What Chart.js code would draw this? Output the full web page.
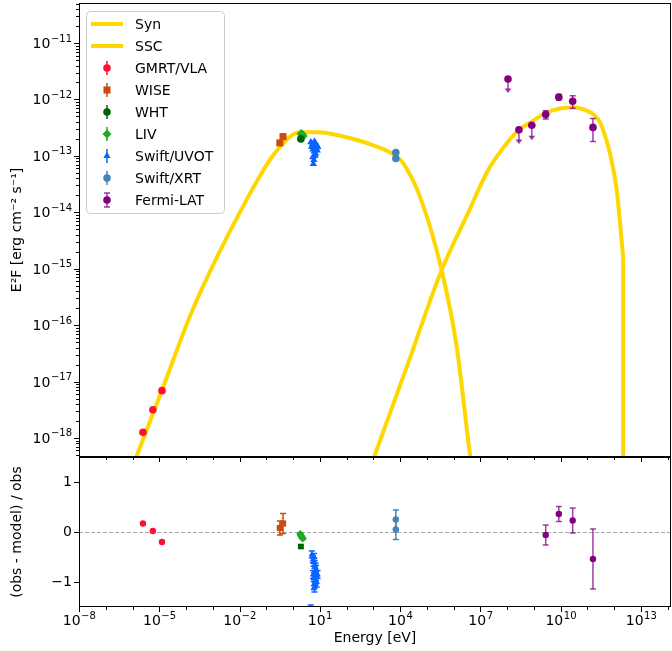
<!DOCTYPE html>
<html>
<head>
<meta charset="utf-8">
<title>SED</title>
<script src="https://cdn.jsdelivr.net/npm/chart.js@4.4.0/dist/chart.umd.min.js"></script>
<style>
  body { margin: 0; background: #fff; }
  #wrap { position: relative; width: 672px; height: 651px; }
  #wrap canvas { position: absolute; left: 0; top: 0; }
</style>
</head>
<body>
<div id="wrap">
  <canvas id="sedChart" width="672" height="651"></canvas>
  <canvas id="resChart" width="672" height="651"></canvas>
</div>
<script>
// energies in eV, fluxes as E^2F in erg cm^-2 s^-1

// model curves
const synEnergy = [5.0e-7, 1.43e-6, 1.23e-5, 1.41e-4, 1.38e-3, 1.82e-2, 5.75e-2, 0.135, 0.324, 0.76, 1.82, 10, 43.6, 407, 741, 3240, 7410, 1.26e4, 5.5e4, 3.55e5, 1.29e6, 4.07e6, 7.9e6];
const synFlux   = [1.26e-19, 4.8e-19, 6.8e-18, 1.45e-16, 1.55e-15, 1.66e-14, 4.4e-14, 8.5e-14, 1.45e-13, 2.2e-13, 2.63e-13, 2.63e-13, 2.34e-13, 1.78e-13, 1.62e-13, 1.23e-13, 9.8e-14, 7.6e-14, 1.9e-14, 9.5e-16, 4.2e-17, 5.1e-19, 6.3e-20];
const sscEnergy = [501, 1150, 2.0e4, 3.55e5, 3.16e6, 1.95e7, 9.5e7, 2.75e8, 8.5e8, 2.75e9, 9.3e9, 2.95e10, 1.23e11, 1.62e11, 2.9e11, 5.1e11, 6.9e11, 1.23e12, 2.14e12];
const sscFlux   = [1.74e-19, 5.1e-19, 2.14e-17, 9.5e-16, 8.9e-15, 5.6e-14, 1.66e-13, 2.9e-13, 4.1e-13, 5.75e-13, 6.9e-13, 7.2e-13, 6.0e-13, 5.5e-13, 4.0e-13, 1.9e-13, 1.12e-13, 2.5e-14, 1.66e-15];
// the SSC curve drops straight down at its cut-off
const sscCutEnergy = [2.14e12, 2.14e12];
const sscCutFlux   = [1.66e-15, 1e-22];

// observations (top panel)
const gmrtE = [2.45e-6, 5.75e-6, 1.26e-5];
const gmrtF = [1.26e-18, 3.16e-18, 6.9e-18];
const wiseE = [0.32, 0.42];
const wiseF = [1.7e-13, 2.2e-13];
const whtE = [1.95];
const whtF = [2.0e-13];
const livE = [2.0, 2.1, 2.25, 2.4];
const livF = [2.5e-13, 2.42e-13, 2.35e-13, 2.25e-13];
const uvotE = [4.6, 4.9, 5.2, 5.5, 5.8, 6.1, 6.4, 6.7, 7.0, 7.3, 7.6, 8.0, 8.4, 5.4, 6.0, 6.6, 5.7, 6.3];
const uvotF = [1.75e-13, 1.45e-13, 1.6e-13, 1.3e-13, 1.5e-13, 1.2e-13, 1.4e-13, 1.7e-13, 1.1e-13, 1.35e-13, 1.55e-13, 1.25e-13, 1.45e-13, 0.95e-13, 0.85e-13, 1.0e-13, 0.72e-13, 1.8e-13];
const xrtE = [6900, 6900];
const xrtF = [1.15e-13, 0.9e-13];
const xrtErr = [0.08e-13, 0.06e-13];
const fermiE = [1.07e8, 2.75e8, 8.3e8, 2.75e9, 8.5e9, 2.8e10, 1.6e11];
const fermiF = [2.3e-12, 2.9e-13, 3.5e-13, 5.4e-13, 1.1e-12, 9.3e-13, 3.2e-13];
const fermiErr = [1.0e-12, 1.27e-13, 1.6e-13, 0.9e-13, 0.12e-12, 2.3e-13, 1.4e-13];
const fermiUpperLimit = [true, true, true, false, false, false, false];

// residuals (obs - model) / obs
const gmrtRes = [0.17, 0.02, -0.2];
const wiseRes = [0.08, 0.17];
const wiseResErr = [0.14, 0.2];
const whtRes = [-0.29];
const whtResErr = [0.03];
const livResE = [1.85, 1.95, 2.1, 2.3];
const livRes = [-0.04, -0.07, -0.1, -0.13];
const livResErr = [0.02, 0.02, 0.02, 0.02];
const uvotResE = [5.0, 5.5, 5.8, 6.1, 6.4, 6.8, 7.2, 5.6, 6.0, 6.5, 7.0, 7.6, 5.9, 6.3, 6.7, 7.1, 6.2, 8.2, 4.6];
const uvotRes = [-0.45, -0.55, -0.6, -0.5, -0.65, -0.7, -0.75, -0.85, -0.9, -0.8, -0.95, -1.0, -1.05, -1.1, -0.98, -0.88, -0.6, -0.85, -2.6];
const uvotResErr = [0.07, 0.07, 0.08, 0.07, 0.08, 0.08, 0.08, 0.08, 0.09, 0.08, 0.09, 0.1, 0.1, 0.1, 0.09, 0.09, 0.08, 0.08, 1.14];
const xrtRes = [0.25, 0.05];
const xrtResErr = [0.19, 0.2];
const fermiResE = [2.75e9, 8.5e9, 2.8e10, 1.6e11];
const fermiRes = [-0.06, 0.36, 0.23, -0.54];
const fermiResErr = [0.2, 0.15, 0.25, 0.6];

// tick labels
const xTickValues = [1e-8, 1e-5, 1e-2, 1e1, 1e4, 1e7, 1e10, 1e13];
const yTickValues = [1e-18, 1e-17, 1e-16, 1e-15, 1e-14, 1e-13, 1e-12, 1e-11];
const resTickValues = [-1, 0, 1];

const X_MIN = 1e-8, X_MAX = 1.32e14;
const Y_MIN = 4.6e-19, Y_MAX = 5.13e-11;

Chart.defaults.font.family = "'DejaVu Sans', sans-serif";
Chart.defaults.font.size = 14;
Chart.defaults.color = '#000';

const GOLD = '#ffd700';
// keep the plot area exactly where the layout padding puts it
function noPad(s) { s.paddingLeft = 0; s.paddingRight = 0; s.paddingTop = 0; s.paddingBottom = 0; }

const styles = {
  gmrt:  { backgroundColor: '#ff1030', pointStyle: 'circle', pointRadius: 3.8, errColor: '#ff1030' },
  wise:  { backgroundColor: '#cc4c0c', pointStyle: 'rect', pointRadius: 5, errColor: '#cc4c0c' },
  wht:   { backgroundColor: '#006400', pointStyle: 'circle', pointRadius: 3.8, errColor: '#006400' },
  liv:   { backgroundColor: '#22aa22', pointStyle: 'rectRot', pointRadius: 4.5, errColor: '#22aa22' },
  uvot:  { backgroundColor: '#0a64ff', pointStyle: 'triangle', pointRadius: 4.2, errColor: '#0a64ff' },
  xrt:   { backgroundColor: '#4682b4', pointStyle: 'circle', pointRadius: 3.8, errColor: '#4682b4' },
  fermi: { backgroundColor: '#800080', pointStyle: 'circle', pointRadius: 3.8, errColor: 'rgba(128,0,128,0.75)', capsize: 3 }
};

function modelLine(label, E, F, inLegend) {
  return {
    label, data: E.map((e, i) => ({ x: e, y: F[i] })), showLine: true,
    borderColor: GOLD, backgroundColor: GOLD, borderWidth: 4, pointRadius: 0,
    cubicInterpolationMode: 'monotone', clip: 0, order: 10, noLegend: !inLegend
  };
}
function obs(label, E, V, err, style, extra) {
  return Object.assign({
    label, data: E.map((e, i) => ({ x: e, y: V[i] })), yerr: err,
    pointBorderWidth: 0, order: 1, clip: 0
  }, style, extra || {});
}

// error bars and upper-limit arrows, drawn just before each marker set
const errorBars = {
  id: 'errorBars',
  beforeDatasetDraw(chart, args) {
    const ds = chart.data.datasets[args.index];
    if (!ds.yerr) return;
    const { ctx, chartArea: a } = chart;
    const xs = chart.scales.x, ys = chart.scales.y;
    const cap = ds.capsize != null ? ds.capsize : 0;
    ctx.save();
    ctx.beginPath();
    ctx.rect(a.left, a.top, a.right - a.left, a.bottom - a.top);
    ctx.clip();
    ctx.strokeStyle = ds.errColor;
    ctx.fillStyle = ds.errColor;
    ctx.lineWidth = 1.5;
    ds.data.forEach((p, i) => {
      const e = ds.yerr[i];
      if (!e) return;
      const px = xs.getPixelForValue(p.x);
      const py = ys.getPixelForValue(p.y);
      if (ds.uplims && ds.uplims[i]) {
        const tip = ys.getPixelForValue(p.y - e);
        ctx.beginPath(); ctx.moveTo(px, py); ctx.lineTo(px, tip - 3); ctx.stroke();
        ctx.beginPath(); ctx.moveTo(px - 3.5, tip - 4.5); ctx.lineTo(px + 3.5, tip - 4.5); ctx.lineTo(px, tip); ctx.closePath(); ctx.fill();
        return;
      }
      const lo = p.y - e, hi = p.y + e;
      const y1 = ys.getPixelForValue(hi);
      const y2 = (ys.type === 'logarithmic' && lo <= 0) ? a.bottom + 20 : ys.getPixelForValue(lo);
      ctx.beginPath(); ctx.moveTo(px, y1); ctx.lineTo(px, y2); ctx.stroke();
      if (cap > 0) {
        ctx.beginPath();
        ctx.moveTo(px - cap, y1); ctx.lineTo(px + cap, y1);
        ctx.moveTo(px - cap, y2); ctx.lineTo(px + cap, y2);
        ctx.stroke();
      }
    });
    ctx.restore();
  }
};

// box around the panel, outward tick marks and 10^n labels with a raised exponent
const axisFrame = {
  id: 'axisFrame',
  afterDraw(chart, args, opts) {
    const { ctx, chartArea: a } = chart;
    const xs = chart.scales.x, ys = chart.scales.y;
    ctx.save();
    ctx.strokeStyle = '#000';
    ctx.lineWidth = 1;
    const line = (x1, y1, x2, y2) => { ctx.beginPath(); ctx.moveTo(x1, y1); ctx.lineTo(x2, y2); ctx.stroke(); };
    (opts.xMajor || []).forEach(v => { const px = Math.round(xs.getPixelForValue(v)) + 0.5; line(px, a.bottom, px, a.bottom + 5); });
    (opts.xMinor || []).forEach(v => { const px = Math.round(xs.getPixelForValue(v)) + 0.5; line(px, a.bottom, px, a.bottom + 3); });
    (opts.yMajor || []).forEach(v => { const py = Math.round(ys.getPixelForValue(v)) + 0.5; line(a.left - 5, py, a.left, py); });
    (opts.yMinor || []).forEach(v => {
      const py = Math.round(ys.getPixelForValue(v)) + 0.5;
      if (py > a.top && py < a.bottom) line(a.left - 3, py, a.left, py);
    });
    ctx.strokeRect(a.left + 0.5, a.top + 0.5, a.right - a.left - 1, a.bottom - a.top - 1);

    const baseFont = "14px 'DejaVu Sans'", expFont = "10px 'DejaVu Sans'";
    const measure = (v) => {
      const exp = String(Math.round(Math.log10(v))).replace('-', '\u2212');
      ctx.font = baseFont; const wb = ctx.measureText('10').width;
      ctx.font = expFont; const we = ctx.measureText(exp).width;
      return { exp, wb, we };
    };
    const draw = (v, x0, baseY) => {
      const m = measure(v);
      ctx.font = baseFont; ctx.fillText('10', x0, baseY);
      ctx.font = expFont; ctx.fillText(m.exp, x0 + m.wb + 0.5, baseY - 6.5);
    };
    ctx.fillStyle = '#000';
    ctx.textBaseline = 'alphabetic';
    ctx.textAlign = 'left';
    (opts.xLabels || []).forEach(v => {
      const m = measure(v);
      const px = xs.getPixelForValue(v);
      draw(v, px - (m.wb + m.we) / 2, a.bottom + 18);
    });
    (opts.yLabels || []).forEach(v => {
      const m = measure(v);
      const py = ys.getPixelForValue(v);
      draw(v, a.left - 7 - m.wb - m.we - 0.5, py + 5);
    });
    ctx.restore();
  }
};

// legend drawn inside the upper panel
const legendBox = {
  id: 'legendBox',
  afterDraw(chart, args, opts) {
    if (!opts.show) return;
    const ctx = chart.ctx;
    const items = chart.data.datasets.filter(d => !d.noLegend);
    const x0 = 86.5, y0 = 11.5, w = 138, h = 202, r = 4;
    ctx.save();
    ctx.beginPath();
    ctx.roundRect(x0, y0, w, h, r);
    ctx.fillStyle = 'rgba(255,255,255,0.8)';
    ctx.fill();
    ctx.strokeStyle = '#cccccc';
    ctx.lineWidth = 1;
    ctx.stroke();
    ctx.font = "14px 'DejaVu Sans'";
    ctx.textBaseline = 'middle';
    items.forEach((ds, i) => {
      const y = 24 + i * 22;
      const mx = 107;
      if (ds.showLine) {
        ctx.strokeStyle = GOLD; ctx.lineWidth = 4;
        ctx.beginPath(); ctx.moveTo(91, y); ctx.lineTo(123, y); ctx.stroke();
      } else {
        ctx.strokeStyle = ds.errColor; ctx.lineWidth = 1.5;
        ctx.beginPath(); ctx.moveTo(mx, y - 7); ctx.lineTo(mx, y + 7); ctx.stroke();
        if (ds.capsize) {
          ctx.beginPath();
          ctx.moveTo(mx - 3, y - 7); ctx.lineTo(mx + 3, y - 7);
          ctx.moveTo(mx - 3, y + 7); ctx.lineTo(mx + 3, y + 7);
          ctx.stroke();
        }
        ctx.fillStyle = ds.backgroundColor;
        Chart.helpers.drawPoint(ctx, { pointStyle: ds.pointStyle, radius: ds.pointRadius, rotation: 0, borderWidth: 0 }, mx, y);
      }
      ctx.fillStyle = '#000';
      ctx.fillText(ds.label, 135, y + 1);
    });
    ctx.restore();
  }
};

// dashed zero line of the residual panel
const zeroLine = {
  id: 'zeroLine',
  beforeDatasetsDraw(chart, args, opts) {
    if (!opts.show) return;
    const { ctx, chartArea: a } = chart;
    const py = Math.round(chart.scales.y.getPixelForValue(0)) + 0.5;
    ctx.save();
    ctx.strokeStyle = '#a8a8a8';
    ctx.lineWidth = 1.2;
    ctx.setLineDash([4, 2]);
    ctx.beginPath(); ctx.moveTo(a.left, py); ctx.lineTo(a.right, py); ctx.stroke();
    ctx.restore();
  }
};

const xMinorTicks = [];
for (let e = -7; e <= 14; e++) { if ((e + 8) % 3 !== 0) xMinorTicks.push(Math.pow(10, e)); }
const yMinorTicks = [];
for (let e = -19; e <= -11; e++) { for (let m = 2; m <= 9; m++) yMinorTicks.push(m * Math.pow(10, e)); }

new Chart(document.getElementById('sedChart'), {
  type: 'scatter',
  data: {
    datasets: [
      modelLine('Syn', synEnergy, synFlux, true),
      modelLine('SSC', sscEnergy, sscFlux, true),
      Object.assign(modelLine('SSC cut', sscCutEnergy, sscCutFlux, false), { cubicInterpolationMode: 'default', tension: 0 }),
      obs('GMRT/VLA', gmrtE, gmrtF, null, styles.gmrt),
      obs('WISE', wiseE, wiseF, null, styles.wise),
      obs('WHT', whtE, whtF, null, styles.wht),
      obs('LIV', livE, livF, null, styles.liv),
      obs('Swift/UVOT', uvotE, uvotF, null, styles.uvot),
      obs('Swift/XRT', xrtE, xrtF, xrtErr, styles.xrt),
      obs('Fermi-LAT', fermiE, fermiF, fermiErr, styles.fermi, { uplims: fermiUpperLimit })
    ]
  },
  options: {
    responsive: false,
    animation: false,
    devicePixelRatio: 1,
    layout: { autoPadding: false, padding: { left: 0, right: 1, top: 3, bottom: 194 } },
    scales: {
      x: {
        type: 'logarithmic', min: X_MIN, max: X_MAX, display: false,
        afterBuildTicks: s => { s.ticks = xTickValues.map(v => ({ value: v })); },
        afterFit: s => { noPad(s); }
      },
      y: {
        type: 'logarithmic', min: Y_MIN, max: Y_MAX,
        afterBuildTicks: s => { s.ticks = yTickValues.map(v => ({ value: v })); },
        afterFit: s => { s.width = 79; noPad(s); },
        ticks: { display: false },
        grid: { display: false, drawTicks: false, tickLength: 0 },
        border: { display: false },
        title: { display: true, text: 'E\u00B2F [erg cm\u207B\u00B2 s\u207B\u00B9]', padding: { top: 9, bottom: 0 }, font: { size: 14 } }
      }
    },
    plugins: {
      legend: { display: false },
      tooltip: { enabled: false },
      axisFrame: { xMajor: xTickValues, xMinor: xMinorTicks, yMajor: yTickValues, yMinor: yMinorTicks, yLabels: yTickValues },
      legendBox: { show: true },
      zeroLine: { show: false }
    }
  },
  plugins: [errorBars, axisFrame, legendBox, zeroLine]
});

new Chart(document.getElementById('resChart'), {
  type: 'scatter',
  data: {
    datasets: [
      obs('GMRT/VLA', gmrtE, gmrtRes, null, styles.gmrt, { pointRadius: 3.2 }),
      obs('WISE', wiseE, wiseRes, wiseResErr, styles.wise, { pointRadius: 4.4, capsize: 3 }),
      obs('WHT', whtE, whtRes, whtResErr, styles.wht, { pointStyle: 'rect', pointRadius: 4, capsize: 3 }),
      obs('LIV', livResE, livRes, livResErr, styles.liv, { pointRadius: 4, capsize: 3 }),
      obs('Swift/UVOT', uvotResE, uvotRes, uvotResErr, styles.uvot, { pointRadius: 3.8, capsize: 3 }),
      obs('Swift/XRT', xrtE, xrtRes, xrtResErr, styles.xrt, { pointRadius: 3.2, capsize: 3 }),
      obs('Fermi-LAT', fermiResE, fermiRes, fermiResErr, styles.fermi, { pointRadius: 3.2 })
    ]
  },
  options: {
    responsive: false,
    animation: false,
    devicePixelRatio: 1,
    layout: { autoPadding: false, padding: { left: 0, right: 1, top: 457, bottom: 0 } },
    scales: {
      x: {
        type: 'logarithmic', min: X_MIN, max: X_MAX,
        afterBuildTicks: s => { s.ticks = xTickValues.map(v => ({ value: v })); },
        afterFit: s => { s.height = 44; noPad(s); },
        ticks: { display: false },
        grid: { display: false, drawTicks: false, tickLength: 0 },
        border: { display: false },
        title: { display: true, text: 'Energy [eV]', padding: { top: 0, bottom: 4 }, font: { size: 14 } }
      },
      y: {
        type: 'linear', min: -1.5, max: 1.5,
        afterBuildTicks: s => { s.ticks = resTickValues.map(v => ({ value: v })); },
        afterFit: s => { s.width = 79; noPad(s); },
        ticks: { callback: v => (v < 0 ? '\u2212' + Math.abs(v) : String(v)), padding: 7, font: { size: 14 } },
        grid: { display: false, drawTicks: false, tickLength: 0 },
        border: { display: false },
        title: { display: true, text: '(obs - model) / obs', padding: { top: 9, bottom: 0 }, font: { size: 14 } }
      }
    },
    plugins: {
      legend: { display: false },
      tooltip: { enabled: false },
      axisFrame: { xMajor: xTickValues, xMinor: xMinorTicks, yMajor: resTickValues, xLabels: xTickValues },
      legendBox: { show: false },
      zeroLine: { show: true }
    }
  },
  plugins: [errorBars, axisFrame, legendBox, zeroLine]
});
</script>
</body>
</html>
